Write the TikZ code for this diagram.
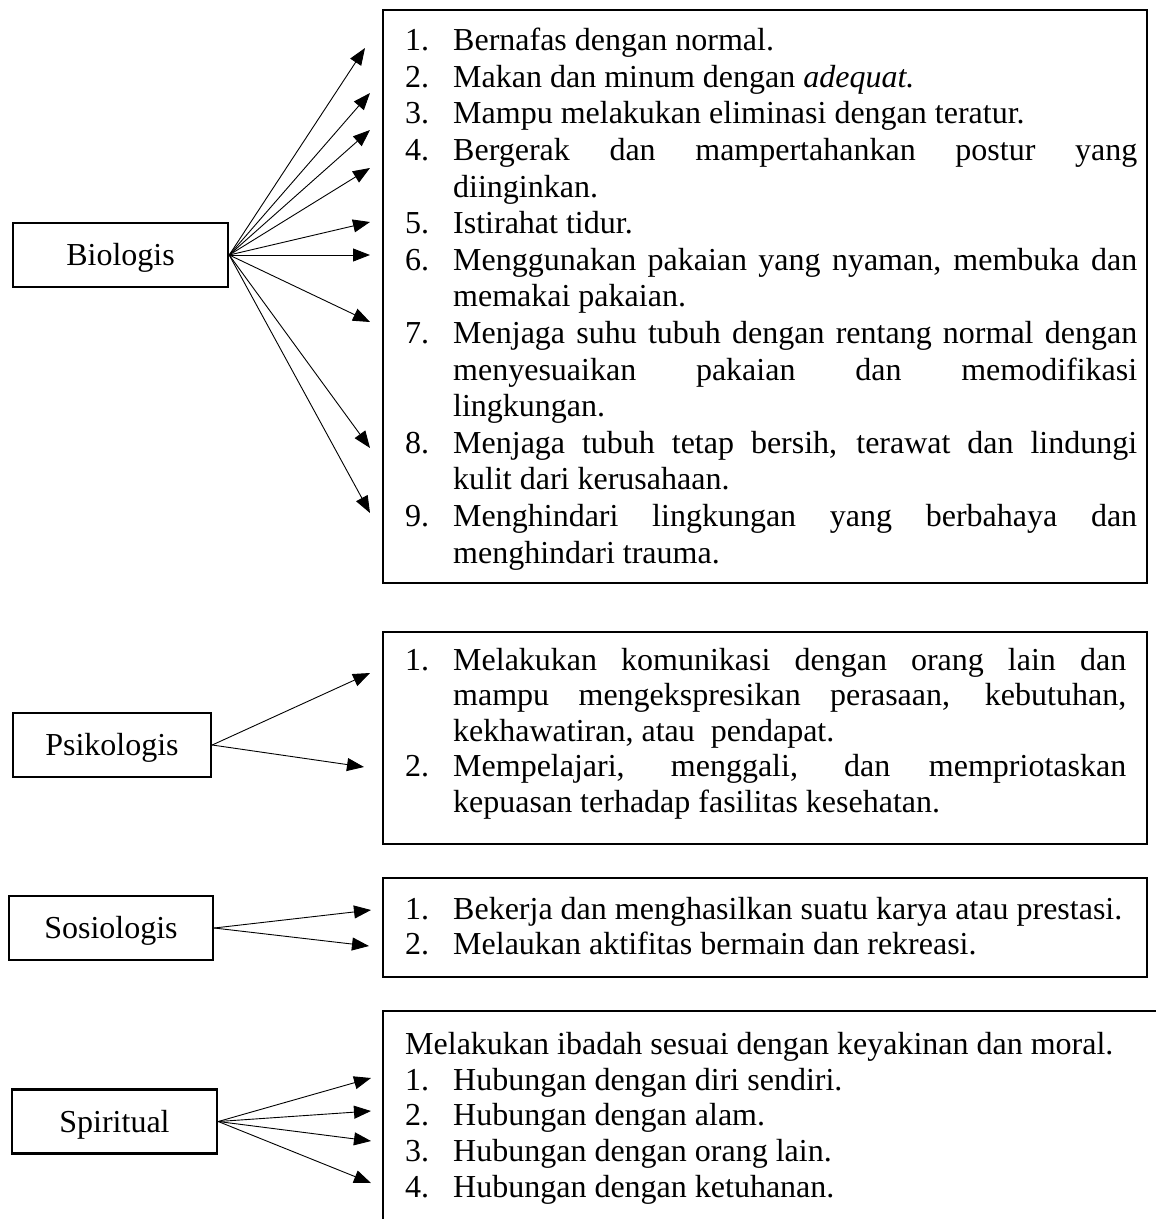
\documentclass[tikz,border=0pt]{standalone}
\usepackage{fontspec}
\setmainfont{Liberation Serif}
\usetikzlibrary{arrows.meta}
\hyphenpenalty=10000
\exhyphenpenalty=10000
\newcommand{\itm}[2]{\hangindent=48pt\hangafter=1\noindent\makebox[48pt][l]{#1.}#2\par}
\begin{document}
\begin{tikzpicture}[x=1pt, y=-1pt,
  every node/.style={font=\fontsize{32}{36.2}\selectfont},
  box/.style={draw, line width=2.4pt},
  catbox/.style={draw, line width=2.4pt, minimum height=64pt, inner sep=0pt, text height=21pt, text depth=0pt},
  listtext/.style={anchor=north west, inner sep=0pt, align=justify, font=\fontsize{32}{#1}\selectfont},
  arr/.style={-{Triangle[length=17pt,width=13pt]}, line width=0.9pt}]
\useasboundingbox (0,0) rectangle (1156,1219);
% category boxes
\node[catbox, minimum width=215pt] (bio) at (120.5,255) {Biologis};
\node[catbox, minimum width=198pt] (psi) at (112,745) {Psikologis};
\node[catbox, minimum width=204pt] (sos) at (111,928) {Sosiologis};
\node[catbox, minimum width=205pt] (spi) at (114.5,1121.5) {Spiritual};
% list boxes
\draw[box] (383,10) rectangle (1147,583);
\draw[box] (383,632) rectangle (1147,844);
\draw[box] (383,878) rectangle (1147,977);
\draw[box] (1160,1011) -| (383,1225);
% list texts
\node[listtext=36.6, text width=732pt] (bioList) at (405,28) {%
\itm{1}{Bernafas dengan normal.}
\itm{2}{Makan dan minum dengan \textit{adequat.}}
\itm{3}{Mampu melakukan eliminasi dengan teratur.}
\itm{4}{Bergerak dan mampertahankan postur yang\linebreak diinginkan.}
\itm{5}{Istirahat tidur.}
\itm{6}{Menggunakan pakaian yang nyaman, membuka dan\linebreak memakai pakaian.}
\itm{7}{Menjaga suhu tubuh dengan rentang normal dengan\linebreak menyesuaikan pakaian dan memodifikasi\linebreak lingkungan.}
\itm{8}{Menjaga tubuh tetap bersih, terawat dan lindungi\linebreak kulit dari kerusahaan.}
\itm{9}{Menghindari lingkungan yang berbahaya dan\linebreak menghindari trauma.}};
\node[listtext=35.5, text width=721pt] (psiList) at (405,648) {%
\itm{1}{Melakukan komunikasi dengan orang lain dan\linebreak mampu mengekspresikan perasaan, kebutuhan,\linebreak kekhawatiran, atau\ \ pendapat.}
\itm{2}{Mempelajari, menggali, dan mempriotaskan\linebreak kepuasan terhadap fasilitas kesehatan.}};
\node[listtext=35.5, text width=732pt] (sosList) at (405,897) {%
\itm{1}{Bekerja dan menghasilkan suatu karya atau prestasi.}
\itm{2}{Melaukan aktifitas bermain dan rekreasi.}};
\node[listtext=35.75, text width=732pt] (spiList) at (405,1032) {%
\noindent Melakukan ibadah sesuai dengan keyakinan dan moral.\par
\itm{1}{Hubungan dengan diri sendiri.}
\itm{2}{Hubungan dengan alam.}
\itm{3}{Hubungan dengan orang lain.}
\itm{4}{Hubungan dengan ketuhanan.}};
% arrow ends
\foreach \x/\y [count=\i] in {365/48, 370/93, 370/130, 370/168, 370/222, 370/255, 370/322, 370/448, 370/513}
  \coordinate (b\i) at (\x,\y);
\foreach \x/\y [count=\i] in {370/673, 364/767} \coordinate (p\i) at (\x,\y);
\foreach \x/\y [count=\i] in {371/910, 369/946} \coordinate (s\i) at (\x,\y);
\foreach \x/\y [count=\i] in {371/1078, 371/1111, 371/1141, 371/1183} \coordinate (r\i) at (\x,\y);
% arrows
\foreach \i in {1,...,9} \draw[arr] (bio.east) -- (b\i);
\foreach \i in {1,2} \draw[arr] (psi.east) -- (p\i);
\foreach \i in {1,2} \draw[arr] (sos.east) -- (s\i);
\foreach \i in {1,...,4} \draw[arr] (spi.east) -- (r\i);
\end{tikzpicture}
\end{document}
